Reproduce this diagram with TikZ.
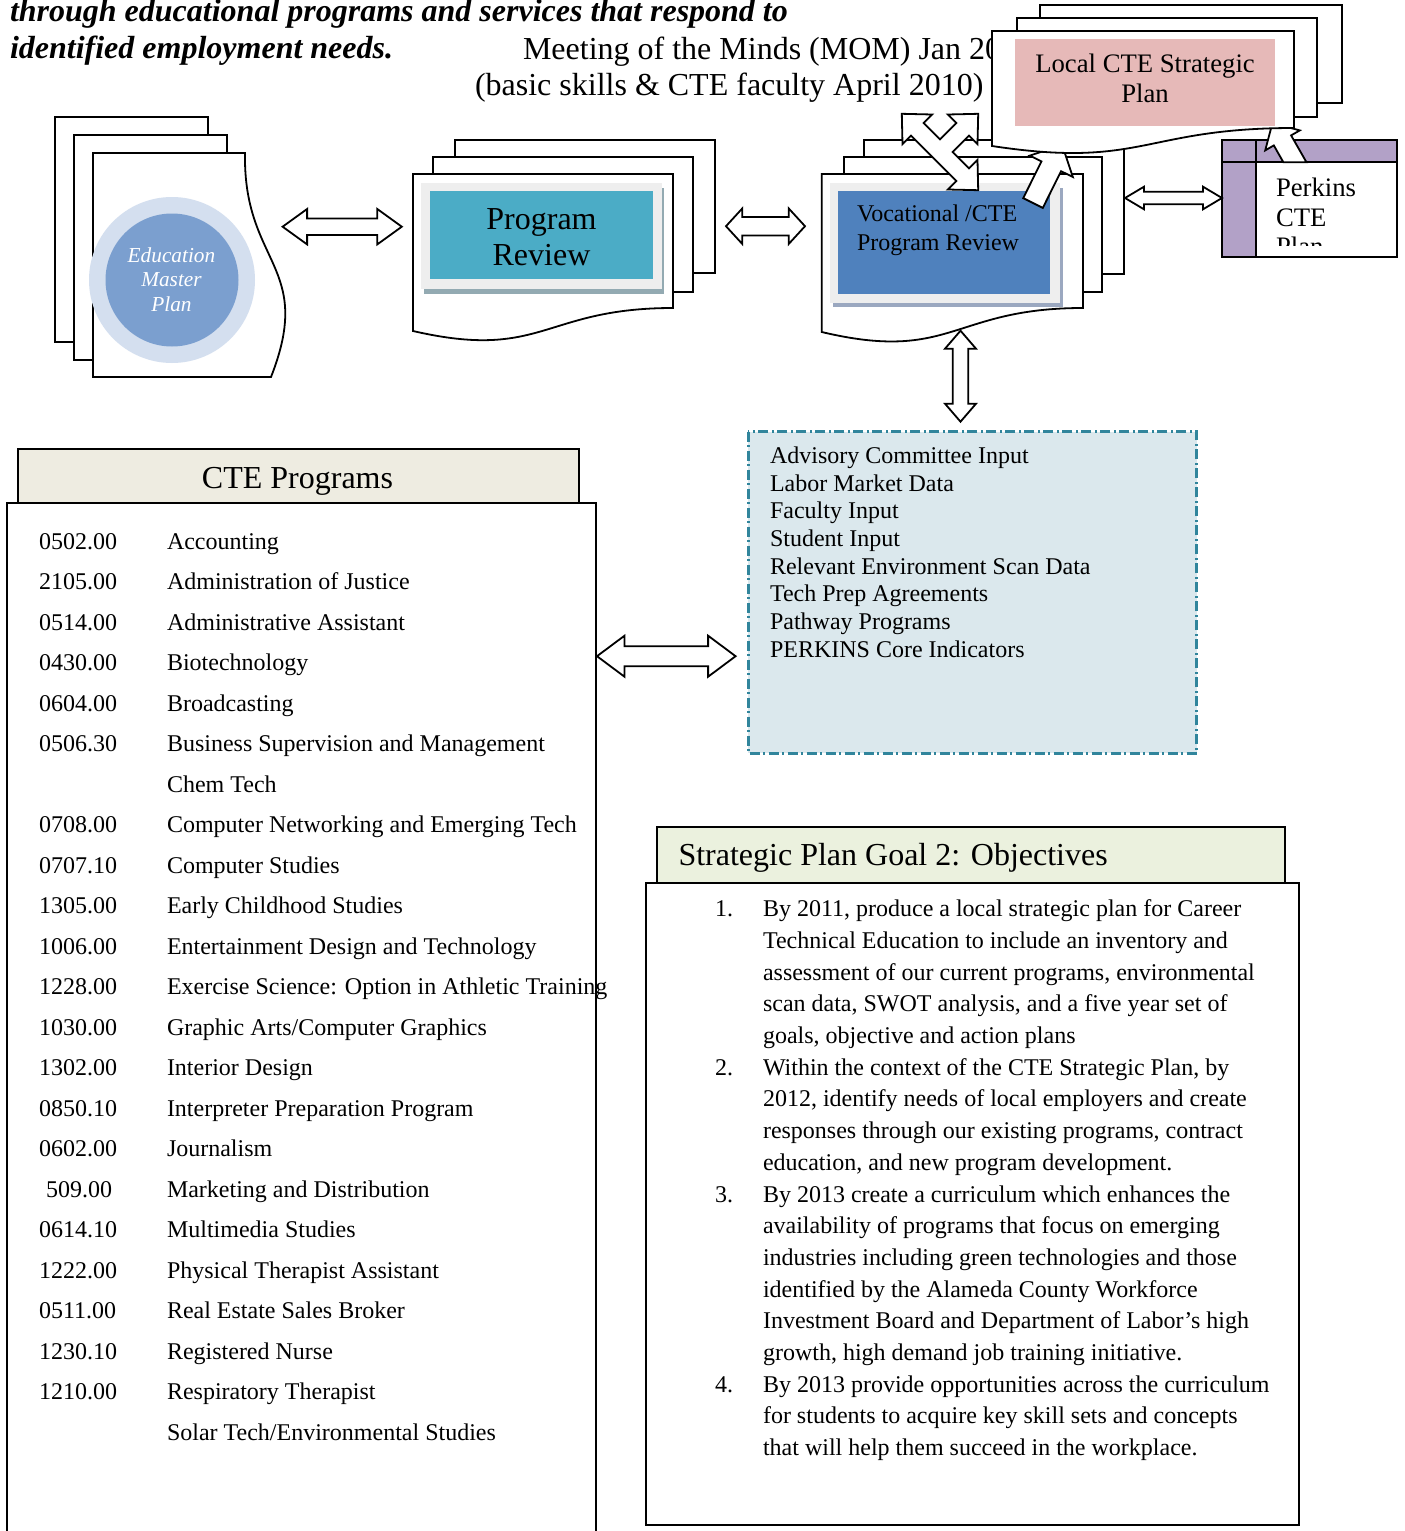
\documentclass[tikz,border=0pt]{standalone}
\usepackage{fontspec}
\setmainfont{Liberation Serif}
\usetikzlibrary{calc}
\definecolor{hdrbeige}{RGB}{238,236,225}
\definecolor{hdrgreen}{RGB}{235,241,222}
\definecolor{tealbox}{RGB}{75,172,198}
\definecolor{bluebox}{RGB}{79,129,189}
\definecolor{pinkbox}{RGB}{230,185,184}
\definecolor{purpband}{RGB}{178,161,199}
\definecolor{emplight}{RGB}{212,223,239}
\definecolor{empdark}{RGB}{123,159,207}
\definecolor{framegray}{RGB}{238,238,238}
\definecolor{shadowtl}{RGB}{147,170,178}
\definecolor{shadowbl}{RGB}{155,168,192}
\definecolor{dashteal}{RGB}{49,133,156}
\definecolor{lightblue}{RGB}{219,232,237}
\tikzset{
  pagesty/.style={draw=black,fill=white,line width=1.8pt,line join=miter},
  barrow/.style={draw=black,fill=white,line width=1.8pt,line join=miter},
  boxline/.style={draw=black,line width=2pt},
  tx/.style={inner sep=0pt,outer sep=0pt,font=\fontsize{24}{28}\selectfont},
  big/.style={inner sep=0pt,outer sep=0pt,font=\fontsize{32}{36}\selectfont},
}
\newcommand\HDArrow[6]{\draw[barrow] ({#1-#3},#2) -- ({#1-#3+#4},{#2-#5}) -- ({#1-#3+#4},{#2-#6}) -- ({#1+#3-#4},{#2-#6}) -- ({#1+#3-#4},{#2-#5}) -- ({#1+#3},#2) -- ({#1+#3-#4},{#2+#5}) -- ({#1+#3-#4},{#2+#6}) -- ({#1-#3+#4},{#2+#6}) -- ({#1-#3+#4},{#2+#5}) -- cycle;}
\newcommand\VDArrow[6]{\draw[barrow] (#1,{#2-#3}) -- ({#1+#5},{#2-#3+#4}) -- ({#1+#6},{#2-#3+#4}) -- ({#1+#6},{#2+#3-#4}) -- ({#1+#5},{#2+#3-#4}) -- (#1,{#2+#3}) -- ({#1-#5},{#2+#3-#4}) -- ({#1-#6},{#2+#3-#4}) -- ({#1-#6},{#2-#3+#4}) -- ({#1-#5},{#2-#3+#4}) -- cycle;}
\newcommand\prow[3]{\node[tx,anchor=base west] (pc#1) at (39,{549.3+40.5*#1}) {#2};\node[tx,anchor=base west] (pn#1) at (167,{549.3+40.5*#1}) {#3};}
\newcommand\pname[2]{\node[tx,anchor=base west] (pn#1) at (167,{549.3+40.5*#1}) {#2};}
\newcommand\sline[2]{\node[tx,anchor=base west] (sl#1) at (763,{916.7+31.7*#1}) {#2};}
\newcommand\snum[2]{\node[tx,anchor=base west] (sn#1) at (715,{916.7+31.7*#1}) {#2};}
\newcommand\aline[2]{\node[tx,anchor=base west] (al#1) at (770,{463.3+27.7*#1}) {#2};}
\begin{document}
\begin{tikzpicture}[x=1pt,y=-1pt]
\useasboundingbox (0,0) rectangle (1405,1531);

% ---- header texts
\node[big,anchor=base west,font=\fontsize{32}{36}\selectfont\bfseries\itshape] (hd1) at (10,21) {through educational programs and services that respond to};
\node[big,anchor=base west,font=\fontsize{32}{36}\selectfont\bfseries\itshape] (hd2) at (10,58) {identified employment needs.};
\node[big,anchor=base west] (mom1) at (523,59) {Meeting of the Minds (MOM) Jan 2010};
\node[big,anchor=base west] (mom2) at (475,95) {(basic skills \& CTE faculty April 2010)};

% ---- Education Master Plan stack
\draw[pagesty] (55,117) rectangle (208,342);
\draw[pagesty] (74,135) rectangle (227,360);
\draw[pagesty] (93,153) -- (245,153) .. controls (243,265) and (315,265) .. (271,377) -- (93,377) -- cycle;
\fill[emplight] (172,280) circle (83pt);
\fill[empdark] (172,280) circle (66.5pt);
\node[inner sep=0pt,anchor=base,text=white,font=\fontsize{21.3}{25}\selectfont\itshape] (emp1) at (171.5,262) {Education};
\node[inner sep=0pt,anchor=base,text=white,font=\fontsize{21.3}{25}\selectfont\itshape] (emp2) at (171.5,286.7) {Master};
\node[inner sep=0pt,anchor=base,text=white,font=\fontsize{21.3}{25}\selectfont\itshape] (emp3) at (171.5,311.7) {Plan};

% ---- Program Review stack
\draw[pagesty] (455,140) rectangle (715,273);
\draw[pagesty] (433,157) rectangle (693,292);
\draw[pagesty] (413,174) -- (673,174) -- (673,308) .. controls (543,308) and (543,361) .. (413,331) -- cycle;
\fill[shadowtl] (424,188) rectangle (664,293.5);
\fill[framegray] (421,182.7) rectangle (662,288.5);
\fill[tealbox] (429.5,190.7) rectangle (653,279.3);
\node[big,anchor=base] (pr1) at (541.5,229.3) {Program};
\node[big,anchor=base] (pr2) at (541.5,265.7) {Review};

% ---- Vocational stack
\draw[pagesty] (864,140) rectangle (1124,274);
\draw[pagesty] (844,157) rectangle (1102,292);
\draw[pagesty] (821.7,174) -- (1083,174) -- (1083,308) .. controls (952,308) and (952,363) .. (821.7,332) -- cycle;
\fill[shadowbl] (833,188) rectangle (1063,306.5);
\fill[framegray] (830,183) rectangle (1059.5,302.5);
\fill[bluebox] (837.5,191) rectangle (1050,294);
\node[tx,anchor=base west] (voc1) at (857,221.7) {Vocational /CTE};
\node[tx,anchor=base west] (voc2) at (857,250) {Program Review};

% ---- three-way arrow
\draw[barrow] (901.8,113.8) -- (932.2,114.5) -- (923.7,123.0) -- (940,139.3) -- (956.3,123.0) -- (947.8,114.5) -- (978.2,113.8) -- (977.5,144.2) -- (969.0,135.7) -- (952.7,152) -- (969.0,168.3) -- (977.5,159.8) -- (978.2,190.2) -- (947.8,189.5) -- (956.3,181.0) -- (911.0,135.7) -- (902.5,144.2) -- cycle;
% ---- up arrow Vocational -> Local CTE
\draw[barrow] (1023.2,198.1) -- (1041.5,161.4) -- (1029.8,155.6) -- (1062.1,144.9) -- (1072.8,177) -- (1061.1,171.2) -- (1042.8,207.9) -- cycle;

% ---- Perkins box
\fill[white] (1222,140) rectangle (1397,257);
\fill[purpband] (1222,140) rectangle (1397,162.3);
\fill[purpband] (1222,140) rectangle (1255.7,257);
\draw[boxline] (1222,140) rectangle (1397,257);
\draw[boxline] (1222,162.3) -- (1397,162.3);
\draw[boxline] (1255.7,140) -- (1255.7,257);
\begin{scope}
\clip (1257,163.5) rectangle (1396,245);
\node[tx,anchor=base west,font=\fontsize{26.7}{30}\selectfont] (pk1) at (1276,196) {Perkins};
\node[tx,anchor=base west,font=\fontsize{26.7}{30}\selectfont] (pk2) at (1276,226.7) {CTE};
\node[tx,anchor=base west,font=\fontsize{26.7}{30}\selectfont] (pk3) at (1276,255.7) {Plan};
\end{scope}
\draw[barrow] (1283.4,162.3) -- (1273.8,145.4) -- (1265.2,150.4) -- (1272.4,123.1) -- (1299.8,130.4) -- (1291.1,135.4) -- (1306.5,162.3) -- cycle;

% ---- Local CTE Strategic Plan stack
\draw[pagesty] (1040,5) rectangle (1342,103);
\draw[pagesty] (1017,18) rectangle (1317,117);
\draw[pagesty] (992,31) -- (1294,31) -- (1294,128) .. controls (1143,128) and (1143,169) .. (992,146) -- cycle;
\fill[pinkbox] (1015,39) rectangle (1275,126);
\node[tx,anchor=base,font=\fontsize{26.7}{30}\selectfont] (lc1) at (1145,72.7) {Local CTE Strategic};
\node[tx,anchor=base,font=\fontsize{26.7}{30}\selectfont] (lc2) at (1145,102.7) {Plan};

% ---- double arrows
\HDArrow{342.2}{226.7}{59.6}{24.5}{17.7}{8.3}
\HDArrow{765.5}{226.2}{39.5}{16.3}{17.8}{9.2}
\HDArrow{1173.5}{198}{48.5}{19}{11.3}{6.2}
\VDArrow{960.5}{376.2}{45.5}{18}{15.5}{7.8}
\HDArrow{666.3}{656.2}{69.3}{27.5}{20.5}{10}

% ---- CTE Programs
\filldraw[fill=hdrbeige,boxline] (18.4,449) rectangle (579,502.7);
\draw[boxline] (6.5,1540) -- (6.5,502.7) -- (596,502.7) -- (596,1540);
\node[big,anchor=base] (ctet) at (297.5,488.3) {CTE Programs};
\prow{0}{0502.00}{Accounting}
\prow{1}{2105.00}{Administration of Justice}
\prow{2}{0514.00}{Administrative Assistant}
\prow{3}{0430.00}{Biotechnology}
\prow{4}{0604.00}{Broadcasting}
\prow{5}{0506.30}{Business Supervision and Management}
\pname{6}{Chem Tech}
\prow{7}{0708.00}{Computer Networking and Emerging Tech}
\prow{8}{0707.10}{Computer Studies}
\prow{9}{1305.00}{Early Childhood Studies}
\prow{10}{1006.00}{Entertainment Design and Technology}
\prow{11}{1228.00}{Exercise Science: Option in Athletic Training}
\prow{12}{1030.00}{Graphic Arts/Computer Graphics}
\prow{13}{1302.00}{Interior Design}
\prow{14}{0850.10}{Interpreter Preparation Program}
\prow{15}{0602.00}{Journalism}
\node[tx,anchor=base west] (pc16) at (46,{549.3+40.5*16}) {509.00};
\pname{16}{Marketing and Distribution}
\prow{17}{0614.10}{Multimedia Studies}
\prow{18}{1222.00}{Physical Therapist Assistant}
\prow{19}{0511.00}{Real Estate Sales Broker}
\prow{20}{1230.10}{Registered Nurse}
\prow{21}{1210.00}{Respiratory Therapist}
\pname{22}{Solar Tech/Environmental Studies}

% ---- inputs box
\filldraw[fill=lightblue,draw=dashteal,line width=2.5pt,dash pattern=on 10pt off 3.5pt on 2pt off 3.5pt] (748.3,431.7) rectangle (1196.7,753.3);
\aline{0}{Advisory Committee Input}
\aline{1}{Labor Market Data}
\aline{2}{Faculty Input}
\aline{3}{Student Input}
\aline{4}{Relevant Environment Scan Data}
\aline{5}{Tech Prep Agreements}
\aline{6}{Pathway Programs}
\aline{7}{PERKINS Core Indicators}

% ---- Strategic plan
\filldraw[fill=hdrgreen,boxline] (657,826.7) rectangle (1284.5,883.3);
\draw[boxline] (646,883.3) rectangle (1299,1525);
\node[big,anchor=base west] (spt) at (678.5,865) {Strategic Plan Goal 2: Objectives};
\snum{0}{1.}
\sline{0}{By 2011, produce a local strategic plan for Career}
\sline{1}{Technical Education to include an inventory and}
\sline{2}{assessment of our current programs, environmental}
\sline{3}{scan data, SWOT analysis, and a five year set of}
\sline{4}{goals, objective and action plans}
\snum{5}{2.}
\sline{5}{Within the context of the CTE Strategic Plan, by}
\sline{6}{2012, identify needs of local employers and create}
\sline{7}{responses through our existing programs, contract}
\sline{8}{education, and new program development.}
\snum{9}{3.}
\sline{9}{By 2013 create a curriculum which enhances the}
\sline{10}{availability of programs that focus on emerging}
\sline{11}{industries including green technologies and those}
\sline{12}{identified by the Alameda County Workforce}
\sline{13}{Investment Board and Department of Labor’s high}
\sline{14}{growth, high demand job training initiative.}
\snum{15}{4.}
\sline{15}{By 2013 provide opportunities across the curriculum}
\sline{16}{for students to acquire key skill sets and concepts}
\sline{17}{that will help them succeed in the workplace.}
\end{tikzpicture}
\end{document}
